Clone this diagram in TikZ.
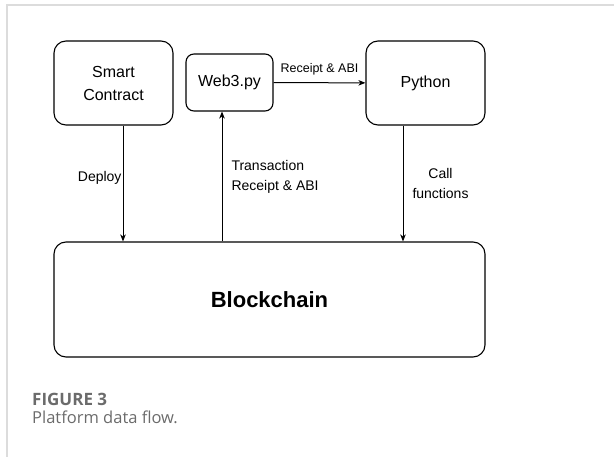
\documentclass[tikz,border=0pt]{standalone}
\usepackage{fontspec}
\setmainfont{Liberation Sans}
\newfontfamily\captionfont{Open Sans}
\usetikzlibrary{arrows.meta,positioning}
\definecolor{framegray}{HTML}{DCDCDC}
\definecolor{captiongray}{HTML}{6B6B6B}
\tikzstyle{flowbox} =[
    draw=black,
    line width=1.1pt,
    rounded corners=12pt,
    align=center,
    inner sep=0pt,
    font=\fontsize{16}{23}\selectfont
    ]
\tikzstyle{flowlabel} =[
    font=\fontsize{14}{20}\selectfont,
    inner sep=1pt
    ]
\tikzstyle{flowarrow} =[
    line width=1pt,
    -{Stealth[length=7pt,width=5.5pt,inset=2pt]}
    ]

\begin{document}
\begin{tikzpicture}[x=1pt,y=-1pt]
\useasboundingbox (0,0) rectangle (614,457);
% page frame
\draw[framegray, line width=1.5pt] (7,457) -- (7,5) -- (614,5);

\node[flowbox, minimum width=119pt, minimum height=84pt] (contract) at (113.5,83) {Smart\\Contract};
\node[flowbox, rounded corners=8pt, minimum width=87pt, minimum height=57pt] (web3) at (229.5,82.5) {Web3.py};
\node[flowbox, minimum width=119pt, minimum height=84pt] (python) at (425.5,83) {Python};
\node[flowbox, minimum width=431pt, minimum height=115pt, font=\bfseries\fontsize{22}{26}\selectfont] (chain) at (269.5,299.5) {Blockchain};

\draw[flowarrow] ([xshift=9.5pt]contract.south) -- ([xshift=9.5pt]contract.south |- chain.north)
    node[flowlabel, pos=0.45, left] {Deploy};
\draw[flowarrow] ([xshift=-7.5pt]web3.south |- chain.north) -- ([xshift=-7.5pt]web3.south)
    node[flowlabel, midway, right, xshift=8pt, align=left] {Transaction\\Receipt \& ABI};
\draw[flowarrow] ([xshift=-22.5pt]python.south) -- ([xshift=-22.5pt]python.south |- chain.north)
    node[flowlabel, midway, right, xshift=8pt, align=center] {Call\\functions};
\draw[flowarrow] (web3) -- (python)
    node[flowlabel, midway, above, yshift=6pt, font=\fontsize{12.5}{15}\selectfont] {Receipt \& ABI};

% caption
\node[anchor=base west, inner sep=0pt, text=captiongray, font=\captionfont\bfseries\fontsize{17}{20}\selectfont] (figno) at (32,406) {FIGURE 3};
\node[anchor=base west, inner sep=0pt, text=captiongray, font=\captionfont\fontsize{16.5}{20}\selectfont] (figtext) at (32,424) {Platform data flow.};
\end{tikzpicture}
\end{document}
